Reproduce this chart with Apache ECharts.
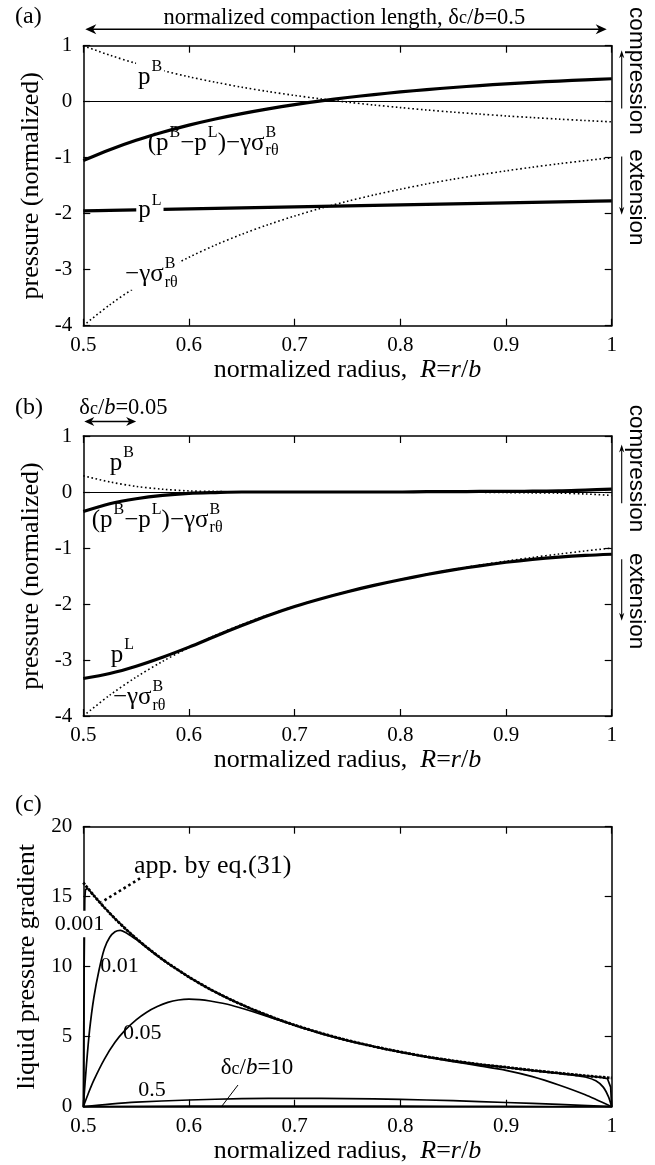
<!DOCTYPE html>
<html>
<head>
<meta charset="utf-8">
<script src="https://cdn.jsdelivr.net/npm/echarts@6/dist/echarts.min.js"></script>
<style>
html,body{margin:0;padding:0;background:#fff;}
#chart{width:655px;height:1165px;}
</style>
</head>
<body>
<div id="chart"></div>
<script>
// ---------------- data ----------------
const X_TICK_LABELS = ['0.5','0.6','0.7','0.8','0.9','1'];
const Y_TICK_AB = ['-4','-3','-2','-1','0','1'];
const Y_TICK_C = ['0','5','10','15','20'];

// panels (a) and (b): normalized radius samples
const R_AB = [0.5,0.525,0.55,0.575,0.6,0.625,0.65,0.675,0.7,0.725,0.75,0.775,0.8,0.825,0.85,0.875,0.9,0.925,0.95,0.975,1.0];
// -gamma sigma^B_rtheta (same in both panels)
const NEG_GAMMA_SIGMA = [-4.000,-3.628,-3.306,-3.025,-2.778,-2.560,-2.367,-2.195,-2.041,-1.902,-1.778,-1.665,-1.563,-1.469,-1.384,-1.306,-1.235,-1.169,-1.108,-1.052,-1.000];
// (a) delta_c/b = 0.5
const A_PB  = [0.999,0.830,0.685,0.557,0.445,0.347,0.259,0.181,0.112,0.049,-0.008,-0.059,-0.105,-0.148,-0.186,-0.221,-0.254,-0.283,-0.311,-0.336,-0.360];
const A_PL  = [-1.950,-1.941,-1.932,-1.923,-1.914,-1.905,-1.896,-1.887,-1.878,-1.869,-1.860,-1.851,-1.842,-1.833,-1.824,-1.815,-1.806,-1.797,-1.788,-1.779,-1.770];
const A_NET = [-1.051,-0.857,-0.689,-0.545,-0.418,-0.308,-0.212,-0.127,-0.051,0.016,0.075,0.127,0.174,0.216,0.254,0.288,0.318,0.345,0.369,0.391,0.410];
// (b) delta_c/b = 0.05
const B_PB  = [0.29,0.18,0.10,0.05,0.02,0.01,0.0,0.0,0.0,0.0,0.0,0.0,0.0,0.0,0.0,-0.005,-0.01,-0.015,-0.02,-0.035,-0.06];
const B_PL  = [-3.330,-3.240,-3.110,-2.950,-2.770,-2.575,-2.385,-2.205,-2.045,-1.905,-1.780,-1.668,-1.566,-1.474,-1.391,-1.318,-1.255,-1.203,-1.162,-1.132,-1.112];
const B_NET = [-0.35,-0.21,-0.12,-0.06,-0.025,-0.01,0,0,0,0,0,0,0,0.005,0.005,0.01,0.01,0.015,0.02,0.035,0.05];

// (c) liquid pressure gradient
const C_APP_R = [0.5,0.51,0.52,0.53,0.54,0.55,0.56,0.57,0.58,0.6,0.62,0.64,0.66,0.68,0.7,0.725,0.75,0.775,0.8,0.825,0.85,0.875,0.9,0.925,0.95,0.975,1.0];
const C_APP   = [16.0,15.08,14.22,13.43,12.70,12.02,11.39,10.80,10.25,9.26,8.39,7.63,6.96,6.36,5.83,5.25,4.74,4.30,3.91,3.57,3.28,3.02,2.82,2.60,2.40,2.21,2.05];
const C_D0001_R = [0.5,0.5008,0.5014,0.502,0.504,0.51,0.52,0.53,0.54,0.55,0.56,0.57,0.58,0.6,0.62,0.64,0.66,0.68,0.7,0.725,0.75,0.775,0.8,0.825,0.85,0.875,0.9,0.925,0.95,0.975,0.99,0.996,0.999,1.0];
const C_D0001   = [0,10.0,14.8,15.5,15.6,15.08,14.22,13.43,12.70,12.02,11.39,10.80,10.25,9.26,8.39,7.63,6.96,6.36,5.83,5.25,4.74,4.30,3.91,3.57,3.28,3.02,2.82,2.60,2.40,2.21,2.10,2.0,1.4,0];
const C_D001_R = [0.5,0.503,0.506,0.51,0.515,0.52,0.525,0.53,0.535,0.54,0.545,0.55,0.56,0.57,0.58,0.6,0.62,0.64,0.66,0.68,0.7,0.725,0.75,0.775,0.8,0.825,0.85,0.875,0.9,0.925,0.95,0.965,0.975,0.985,0.992,0.997,1.0];
const C_D001   = [0,3.0,5.5,7.8,9.8,11.3,12.1,12.5,12.6,12.45,12.2,11.95,11.36,10.78,10.24,9.25,8.38,7.62,6.95,6.35,5.82,5.24,4.73,4.29,3.90,3.56,3.27,3.01,2.80,2.58,2.37,2.24,2.12,1.85,1.4,0.7,0];
const C_D005_R = [0.5,0.505,0.51,0.52,0.53,0.54,0.55,0.56,0.57,0.58,0.59,0.6,0.61,0.62,0.64,0.66,0.68,0.7,0.725,0.75,0.775,0.8,0.825,0.85,0.875,0.9,0.925,0.95,0.975,1.0];
const C_D005   = [0,1.0,1.9,3.4,4.6,5.5,6.2,6.75,7.15,7.45,7.62,7.68,7.65,7.55,7.25,6.8,6.3,5.8,5.22,4.72,4.29,3.89,3.54,3.22,2.92,2.6,2.15,1.55,0.85,0];
const C_D05_R = [0.5,0.525,0.55,0.6,0.65,0.7,0.75,0.8,0.85,0.9,0.95,1.0];
const C_D05   = [0,0.18,0.32,0.48,0.57,0.6,0.58,0.52,0.43,0.3,0.16,0];
const C_D10_R = [0.5,0.6,0.7,0.8,0.9,1.0];
const C_D10   = [0,0.04,0.05,0.04,0.02,0];

// ---------------- chart ----------------
const SERIF = "'Liberation Serif', 'Times New Roman', serif";
const SANS = "'Liberation Sans', Arial, sans-serif";
const zip = (xs, ys) => xs.map((x, i) => [x, ys[i]]);

const GRID_TOPS = [45.7, 436, 826.7];
const grids = GRID_TOPS.map(t => ({left: 83.3, top: t, width: 528.4, height: 280, containLabel: false}));

const axLine = {show: true, onZero: false, lineStyle: {color: '#000', width: 1.5}};
const axTick = {show: true, inside: true, length: 7, lineStyle: {color: '#000', width: 1.2}};
const richName = {
  t: {fontFamily: SERIF, fontSize: 26, color: '#000'},
  i: {fontFamily: SERIF, fontSize: 26, fontStyle: 'italic', color: '#000'}
};
const xAxes = [], yAxes = [];
function addAxes(g, yMin, yMax, yInt, yLabels, yName) {
  xAxes.push({gridIndex: g, type: 'value', min: 0.5, max: 1, interval: 0.1, position: 'bottom',
    axisLine: axLine, axisTick: axTick, splitLine: {show: false},
    axisLabel: {color: '#000', fontFamily: SERIF, fontSize: 21, margin: 9,
      formatter: v => X_TICK_LABELS[Math.round((v - 0.5) * 10)]},
    name: '{t|normalized radius,  }{i|R}{t|=}{i|r}{t|/}{i|b}', nameLocation: 'middle', nameGap: 31,
    nameTextStyle: {rich: richName}});
  xAxes.push({gridIndex: g, type: 'value', min: 0.5, max: 1, interval: 0.1, position: 'top',
    axisLine: axLine, axisTick: axTick, splitLine: {show: false}, axisLabel: {show: false}});
  yAxes.push({gridIndex: g, type: 'value', min: yMin, max: yMax, interval: yInt, position: 'left',
    axisLine: axLine, axisTick: axTick, splitLine: {show: false},
    axisLabel: {color: '#000', fontFamily: SERIF, fontSize: 21, margin: 11,
      formatter: v => yLabels[Math.round((v - yMin) / yInt)]},
    name: yName, nameLocation: 'middle', nameGap: 35, nameRotate: 90,
    nameTextStyle: {fontFamily: SERIF, fontSize: 26, color: '#000'}});
  yAxes.push({gridIndex: g, type: 'value', min: yMin, max: yMax, interval: yInt, position: 'right',
    axisLine: axLine, axisTick: axTick, splitLine: {show: false}, axisLabel: {show: false}});
}
addAxes(0, -4, 1, 1, Y_TICK_AB, 'pressure (normalized)');
addAxes(1, -4, 1, 1, Y_TICK_AB, 'pressure (normalized)');
addAxes(2, 0, 20, 5, Y_TICK_C, 'liquid pressure gradient');

function ser(g, data, width, dash, smooth, z, extra) {
  return Object.assign({type: 'line', xAxisIndex: 2 * g, yAxisIndex: 2 * g, data: data,
    showSymbol: false, symbol: 'none', smooth: smooth, silent: true, z: z,
    lineStyle: {color: '#000', width: width, type: dash || 'solid', cap: 'butt'}}, extra || {});
}
const zeroLine = {markLine: {silent: true, symbol: 'none', label: {show: false},
  lineStyle: {color: '#000', width: 1, type: 'solid'}, data: [{yAxis: 0}]}};
const DOT = [1.6, 2.6];
const series = [
  ser(0, zip(R_AB, A_PB), 1.6, DOT, 0.3, 3, zeroLine),
  ser(0, zip(R_AB, NEG_GAMMA_SIGMA), 1.6, DOT, 0.3, 3),
  ser(0, zip(R_AB, A_PL), 3.2, null, 0.3, 4),
  ser(0, zip(R_AB, A_NET), 3.2, null, 0.3, 4),
  ser(1, zip(R_AB, B_PB), 1.6, DOT, 0.3, 3, zeroLine),
  ser(1, zip(R_AB, NEG_GAMMA_SIGMA), 1.6, DOT, 0.3, 3),
  ser(1, zip(R_AB, B_PL), 3.2, null, 0.3, 4),
  ser(1, zip(R_AB, B_NET), 3.2, null, 0.3, 4),
  ser(2, zip(C_APP_R, C_APP), 2.8, [2.6, 1.4], 0.2, 3),
  ser(2, zip(C_D0001_R, C_D0001), 1.7, null, false, 4),
  ser(2, zip(C_D001_R, C_D001), 1.7, null, 0.2, 4),
  ser(2, zip(C_D005_R, C_D005), 1.7, null, 0.2, 4),
  ser(2, zip(C_D05_R, C_D05), 1.7, null, 0.3, 4),
  ser(2, zip(C_D10_R, C_D10), 1.7, null, 0.3, 4)
];

const chart = echarts.init(document.getElementById('chart'), null, {renderer: 'canvas', width: 655, height: 1165});
chart.setOption({animation: false, backgroundColor: '#fff', grid: grids, xAxis: xAxes, yAxis: yAxes, series: series});

// ---------------- annotations ----------------
const P = (g, x, y) => chart.convertToPixel({xAxisIndex: 2 * g, yAxisIndex: 2 * g}, [x, y]);
const cv = document.createElement('canvas').getContext('2d');
const fontStr = (size, it, fam) => (it ? 'italic ' : '') + size + 'px ' + (fam || SERIF);
function meas(t, size, it) { cv.font = fontStr(size, it); return cv.measureText(t).width; }

function mt(px, py, segs, o) {
  o = o || {};
  const base = o.size || 25, small = Math.round(base * 0.62);
  const kids = []; let x = 0;
  const add = (t, size, it, dx, dy) => kids.push({type: 'text', x: dx, y: dy, z: 101,
    style: {text: t, font: fontStr(size, it), fill: '#000', textAlign: 'left', textVerticalAlign: 'middle', align: 'left', verticalAlign: 'middle'}});
  for (const s of segs) {
    if (typeof s === 'string') { add(s, base, false, x, 0); x += meas(s, base, false); }
    else if (s.t !== undefined) { const sz = s.size || base; add(s.t, sz, !!s.it, x, s.dy || 0); x += meas(s.t, sz, !!s.it); }
    else {
      let w = 0;
      if (s.sup) { add(s.sup, small, false, x + 1, -base * 0.42); w = Math.max(w, meas(s.sup, small) + 1); }
      if (s.sub) { add(s.sub, small, false, x + 1, base * 0.32); w = Math.max(w, meas(s.sub, small) + 1); }
      x += w;
    }
  }
  const ox = o.align === 'center' ? -x / 2 : 0;
  if (o.bg) kids.unshift({type: 'rect', z: 100, shape: {x: -2, y: -base * 0.6, width: x + 4, height: base * 1.2}, style: {fill: '#fff'}});
  return {type: 'group', x: px + ox, y: py, z: 100, children: kids};
}
function mtd(g, R, v, segs, o) { const p = P(g, R, v); return mt(p[0], p[1], segs, o); }

function arrow(x1, y1, x2, y2, both, lw, hl, hw) {
  const els = [];
  const head = (xa, ya, xb, yb) => {
    const a = Math.atan2(yb - ya, xb - xa), c = Math.cos(a), s = Math.sin(a);
    const bx = xb - hl * c, by = yb - hl * s, nx = -s * hw, ny = c * hw;
    const mx = xb - hl * 0.7 * c, my = yb - hl * 0.7 * s;
    els.push({type: 'polygon', z: 102, shape: {points: [[xb, yb], [bx + nx, by + ny], [mx, my], [bx - nx, by - ny]]}, style: {fill: '#000'}});
    return [mx, my];
  };
  const e2 = head(x1, y1, x2, y2);
  const e1 = both ? head(x2, y2, x1, y1) : [x1, y1];
  els.unshift({type: 'line', z: 101, shape: {x1: e1[0], y1: e1[1], x2: e2[0], y2: e2[1]}, style: {stroke: '#000', lineWidth: lw}});
  return els;
}
function sideText(x, y, t) {
  return {type: 'text', x: x, y: y, rotation: -Math.PI / 2, z: 100,
    style: {text: t, font: fontStr(22.5, false, SANS), fill: '#000', textAlign: 'center', textVerticalAlign: 'middle', align: 'center', verticalAlign: 'middle'}};
}
function plain(x, y, t, size) {
  return {type: 'text', x: x, y: y, z: 100,
    style: {text: t, font: fontStr(size, false), fill: '#000', textAlign: 'left', textVerticalAlign: 'middle', align: 'left', verticalAlign: 'middle'}};
}

const SIG = ['−γσ', {sup: 'B', sub: 'rθ'}];
const NET = ['(p', {sup: 'B'}, '−p', {sup: 'L'}, ')−γσ', {sup: 'B', sub: 'rθ'}];
const g = [];
// panel labels
g.push(plain(15, GRID_TOPS[0] - 29, '(a)', 24));
g.push(plain(15, GRID_TOPS[1] - 28, '(b)', 24));
g.push(plain(15, GRID_TOPS[2] - 22, '(c)', 24));

// panel (a)
{
  const L = P(0, 0.5, 0), Rt = P(0, 1.0, 0);
  const yA = GRID_TOPS[0] - 16.5;
  g.push(...arrow(L[0] + 2, yA, Rt[0] - 5, yA, true, 1.6, 11, 5));
  g.push(mt(P(0, 0.747, 0)[0], GRID_TOPS[0] - 28,
    ['normalized compaction length, δ', {t: 'c', size: 18, dy: 1}, '/', {t: 'b', it: true}, '=0.5'], {align: 'center', size: 22.5}));
  g.push(mtd(0, 0.5518, 0.44, ['p', {sup: 'B'}], {bg: true}));
  g.push(mtd(0, 0.561, -0.74, NET));
  g.push(mtd(0, 0.552, -1.95, ['p', {sup: 'L'}], {bg: true}));
  g.push(mtd(0, 0.5395, -3.09, SIG, {bg: true}));
  const xr = Rt[0];
  g.push(...arrow(xr + 10, P(0, 1, -0.12)[1], xr + 10, P(0, 1, 0.92)[1], false, 1.1, 8, 2.6));
  g.push(...arrow(xr + 10, P(0, 1, -0.98)[1], xr + 10, P(0, 1, -2.02)[1], false, 1.1, 8, 2.6));
  g.push(sideText(xr + 25, P(0, 1, 0.55)[1], 'compression'));
  g.push(sideText(xr + 25, P(0, 1, -1.71)[1], 'extension'));
}
// panel (b)
{
  const L = P(1, 0.5, 0), Rr = P(1, 0.55, 0);
  const yA = GRID_TOPS[1] - 14.5;
  g.push(...arrow(L[0] + 1, yA, Rr[0], yA, true, 1.6, 10, 4.5));
  g.push(mt(P(1, 0.5, 0)[0] - 4, GRID_TOPS[1] - 28,
    ['δ', {t: 'c', size: 18, dy: 1}, '/', {t: 'b', it: true}, '=0.05'], {size: 22.5}));
  g.push(mtd(1, 0.525, 0.51, ['p', {sup: 'B'}], {bg: true}));
  g.push(mtd(1, 0.508, -0.5, NET));
  g.push(mtd(1, 0.526, -2.92, ['p', {sup: 'L'}]));
  g.push(mtd(1, 0.528, -3.67, SIG));
  const xr = P(1, 1, 0)[0];
  g.push(...arrow(xr + 10, P(1, 1, -0.2)[1], xr + 10, P(1, 1, 0.85)[1], false, 1.1, 8, 2.6));
  g.push(...arrow(xr + 10, P(1, 1, -1.2)[1], xr + 10, P(1, 1, -2.3)[1], false, 1.1, 8, 2.6));
  g.push(sideText(xr + 25, P(1, 1, 0.42)[1], 'compression'));
  g.push(sideText(xr + 25, P(1, 1, -1.95)[1], 'extension'));
}
// panel (c)
{
  g.push(mtd(2, 0.548, 17.2, ['app. by eq.(31)'], {size: 26}));
  const a1 = P(2, 0.5537, 16.31), a2 = P(2, 0.5174, 14.62);
  g.push({type: 'line', z: 101, shape: {x1: a1[0], y1: a1[1], x2: a2[0], y2: a2[1]},
    style: {stroke: '#000', lineWidth: 2.6, lineDash: [2.6, 3]}});
  g.push(mtd(2, 0.473, 13.05, ['0.001'], {bg: true, size: 22}));
  g.push(mtd(2, 0.516, 10.05, ['0.01'], {size: 22}));
  g.push(mtd(2, 0.5376, 5.26, ['0.05'], {size: 22}));
  g.push(mtd(2, 0.552, 1.19, ['0.5'], {size: 22}));
  g.push(mtd(2, 0.630, 2.76, ['δ', {t: 'c', size: 18, dy: 1}, '/', {t: 'b', it: true}, '=10'], {size: 23}));
  const d1 = P(2, 0.6464, 1.55), d2 = P(2, 0.6307, 0);
  g.push({type: 'line', z: 101, shape: {x1: d1[0], y1: d1[1], x2: d2[0], y2: d2[1]}, style: {stroke: '#000', lineWidth: 1}});
}
chart.setOption({graphic: {elements: g}});
</script>
</body>
</html>
